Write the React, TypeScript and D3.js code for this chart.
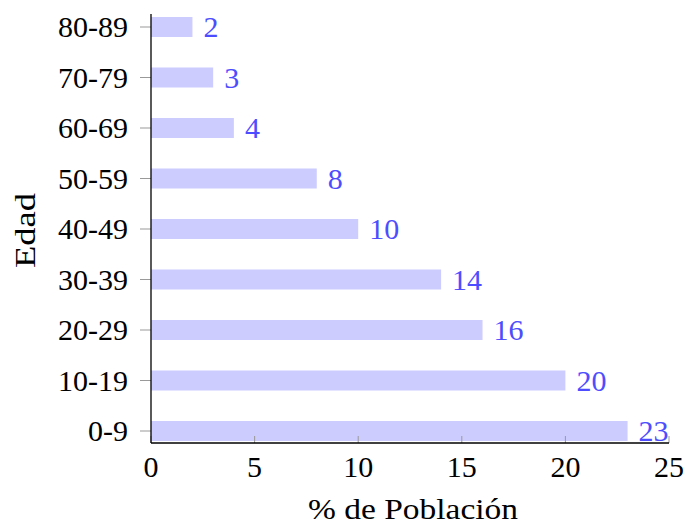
import React from "react";
import * as d3 from "d3";

const categories = ["0-9", "10-19", "20-29", "30-39", "40-49", "50-59", "60-69", "70-79", "80-89"];
const values = [23, 20, 16, 14, 10, 8, 4, 3, 2];
const xTicks = [0, 5, 10, 15, 20, 25];

export default function App() {
  const W = 686, H = 525;
  const left = 151, right = 669, top = 14, bottom = 443;
  const x = d3.scaleLinear().domain([0, 25]).range([left, right]);
  const y = d3.scaleLinear().domain([0, 8]).range([431, 27]);
  const barH = 20;
  const fs = 30;
  return (
    <svg width={W} height={H} style={{ position: "absolute", left: 0, top: 0, fontFamily: "Liberation Serif, DejaVu Serif, serif" }}>
      {categories.map((c, i) => (
        <rect key={c} x={x(0)} y={y(i) - barH / 2} width={x(values[i]) - x(0)} height={barH} fill="#ccccff" />
      ))}
      {xTicks.map((t) => (
        <line key={t} x1={x(t)} x2={x(t)} y1={bottom} y2={bottom - 7} stroke="#999" strokeWidth={1} />
      ))}
      {categories.map((c, i) => (
        <line key={c} x1={left - 11} x2={left} y1={y(i)} y2={y(i)} stroke="#999" strokeWidth={1} />
      ))}
      <line x1={left} x2={left} y1={top} y2={bottom} stroke="#000" strokeWidth={1.3} />
      <line x1={left} x2={right} y1={bottom} y2={bottom} stroke="#000" strokeWidth={1.3} />
      {xTicks.map((t) => (
        <text key={t} x={x(t)} y={477} textAnchor="middle" fontSize={fs} fill="#000">{t}</text>
      ))}
      {categories.map((c, i) => (
        <text key={c} x={left - 23} y={y(i)} dy="0.34em" textAnchor="end" fontSize={fs} fill="#000">{c}</text>
      ))}
      {categories.map((c, i) => (
        <text key={c} x={x(values[i]) + 11} y={y(i)} dy="0.34em" textAnchor="start" fontSize={fs} fill="#4d4dff">{values[i]}</text>
      ))}
      <text x={308} y={519} textLength={210} lengthAdjust="spacingAndGlyphs" fontSize={fs} fill="#000">% de Población</text>
      <text transform={`translate(35,268) rotate(-90)`} textLength={75} lengthAdjust="spacingAndGlyphs" fontSize={fs} fill="#000">Edad</text>
    </svg>
  );
}
